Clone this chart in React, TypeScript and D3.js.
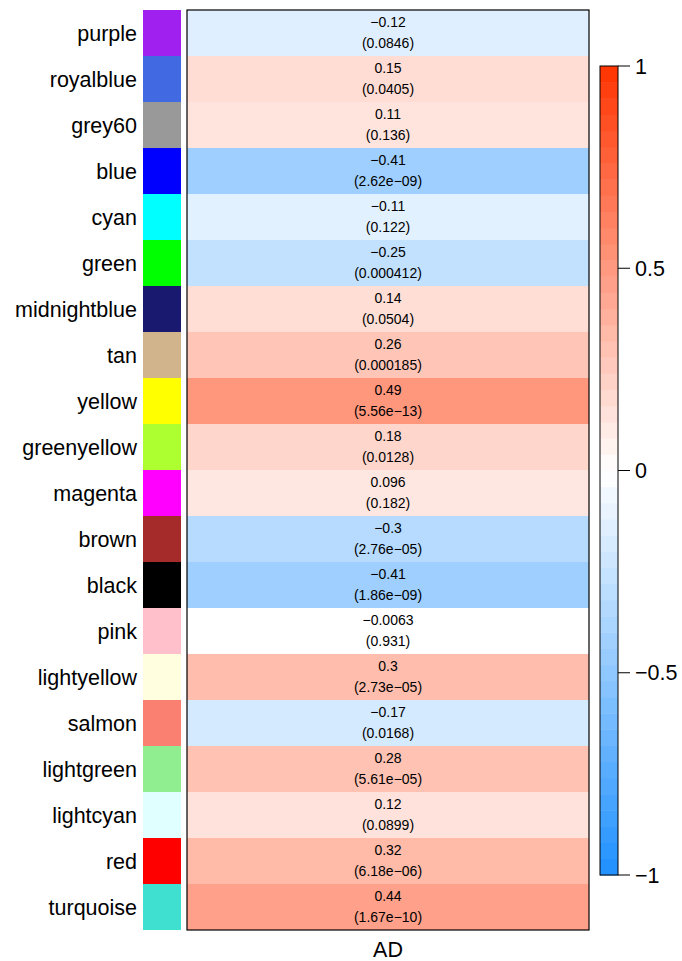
import React from "react";
import * as d3 from "d3";

const modules = ["purple","royalblue","grey60","blue","cyan","green","midnightblue","tan","yellow","greenyellow","magenta","brown","black","pink","lightyellow","salmon","lightgreen","lightcyan","red","turquoise"];
const moduleColors = ["#A020F0","#4169E1","#999999","#0000FF","#00FFFF","#00FF00","#191970","#D2B48C","#FFFF00","#ADFF2F","#FF00FF","#A52A2A","#000000","#FFC0CB","#FFFFE0","#FA8072","#90EE90","#E0FFFF","#FF0000","#40E0D0"];
const corValues = [-0.12,0.15,0.11,-0.41,-0.11,-0.25,0.14,0.26,0.49,0.18,0.096,-0.3,-0.41,-0.0063,0.3,-0.17,0.28,0.12,0.32,0.44];
const corLabels = ["\u22120.12","0.15","0.11","\u22120.41","\u22120.11","\u22120.25","0.14","0.26","0.49","0.18","0.096","\u22120.3","\u22120.41","\u22120.0063","0.3","\u22120.17","0.28","0.12","0.32","0.44"];
const pLabels = ["0.0846","0.0405","0.136","2.62e\u221209","0.122","0.000412","0.0504","0.000185","5.56e\u221213","0.0128","0.182","2.76e\u221205","1.86e\u221209","0.931","2.73e\u221205","0.0168","5.61e\u221205","0.0899","6.18e\u221206","1.67e\u221210"];
const traits = ["AD"];
const legendTicks = [1, 0.5, 0, -0.5, -1];
const legendTickLabels = ["1", "0.5", "0", "\u22120.5", "\u22121"];

const blueEnd = "rgb(30,144,255)";
const redEnd = "rgb(255,51,0)";

export default function App() {
  const W = 682, H = 961;
  const top = 10, bottom = 930;
  const y = d3.scaleBand<string>().domain(modules).range([top, bottom]);
  const x = d3.scaleBand<string>().domain(traits).range([187, 589]);
  const color = d3.scaleLinear<string>().domain([-1, 0, 1]).range([blueEnd, "#FFFFFF", redEnd]).interpolate(d3.interpolateRgb);
  const cellColor = (v: number) => (Math.abs(v) < 0.05 ? color(v * 0.3) : color(Math.sign(v) * (Math.abs(v) + 0.02)));
  const nSteps = 50;
  const cb = d3.scaleLinear().domain([-1, 1]).range([875, 66]);
  const cbX0 = 600, cbX1 = 618;
  const stops = d3.range(nSteps).map((i) => -1 + (i + 0.5) * (2 / nSteps));
  const font = "Liberation Sans, Arial, Helvetica, sans-serif";
  const cx = (x("AD") as number) + x.bandwidth() / 2;
  return (
    <svg width={W} height={H} style={{ position: "absolute", left: 0, top: 0 }} fontFamily={font}>
      <rect x={0} y={0} width={W} height={H} fill="#fff" />
      {modules.map((m, i) => {
        const yc = (y(m) as number) + y.bandwidth() / 2;
        return (
          <g key={m}>
            <text x={137} y={yc} dy="0.35em" textAnchor="end" fontSize={21.5} fill="#000">{m}</text>
            <rect x={143} y={y(m)} width={38} height={y.bandwidth()} fill={moduleColors[i]} />
            <rect x={x("AD")} y={y(m)} width={x.bandwidth()} height={y.bandwidth()} fill={cellColor(corValues[i])} />
            <text x={cx} y={yc - 10.5} dy="0.35em" textAnchor="middle" fontSize={14} fill="#000">{corLabels[i]}</text>
            <text x={cx} y={yc + 10} dy="0.35em" textAnchor="middle" fontSize={14} fill="#000">({pLabels[i]})</text>
          </g>
        );
      })}
      <rect x={x("AD")} y={top} width={x.bandwidth()} height={bottom - top} fill="none" stroke="#000" strokeWidth={1.2} />
      <text x={cx} y={949} dy="0.35em" textAnchor="middle" fontSize={21.5} fill="#000">AD</text>
      {stops.map((s, i) => {
        const y0 = cb(-1 + (i + 1) * (2 / nSteps));
        const y1 = cb(-1 + i * (2 / nSteps));
        return <rect key={i} x={cbX0} y={y0} width={cbX1 - cbX0} height={y1 - y0 + 0.5} fill={color(s)} />;
      })}
      <rect x={cbX0} y={cb(1)} width={cbX1 - cbX0} height={cb(-1) - cb(1)} fill="none" stroke="#000" strokeWidth={1} />
      {legendTicks.map((t, i) => (
        <g key={t}>
          <line x1={cbX1} x2={630} y1={cb(t)} y2={cb(t)} stroke="#000" strokeWidth={1} />
          <text x={635} y={cb(t)} dy="0.35em" fontSize={21.5} fill="#000">{legendTickLabels[i]}</text>
        </g>
      ))}
    </svg>
  );
}
